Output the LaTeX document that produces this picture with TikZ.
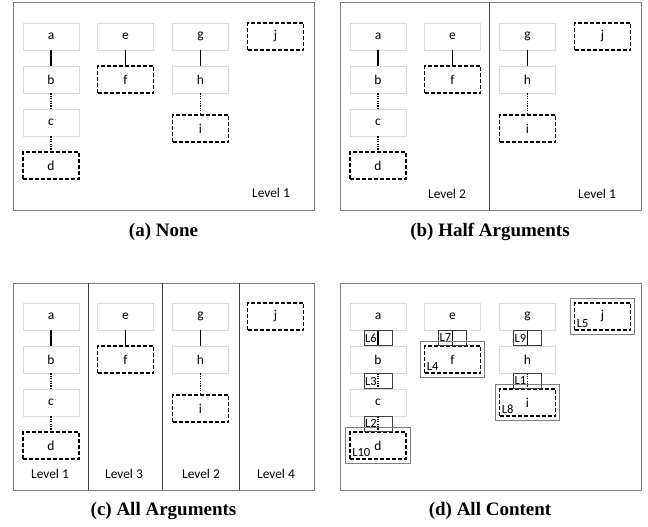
\documentclass[tikz,border=0pt]{standalone}
\usepackage{fontspec}
\newfontfamily\carlito{Carlito}
\newfontfamily\capfont{Liberation Serif}
\usetikzlibrary{calc,fit}
\definecolor{framegray}{HTML}{808080}
\definecolor{boxgray}{HTML}{D9D9D9}
\definecolor{edgegray}{HTML}{404040}
\tikzset{
  box/.style={draw=boxgray, line width=0.8pt, minimum width=56pt, minimum height=27pt, inner sep=0pt, font=\carlito\fontsize{13.5}{13.5}\selectfont},
  dbox/.style={box, draw=black, line width=1.8pt, dash pattern=on 4pt off 2pt},
  solidc/.style={draw=black, line width=1.8pt},
  dotc/.style={draw=black, line width=1.5pt, dash pattern=on 1.2pt off 1.2pt},
  frame/.style={draw=framegray, line width=1pt},
  divider/.style={draw=edgegray, line width=0.8pt},
  lvl/.style={font=\carlito\fontsize{13.4}{13.4}\selectfont},
  captext/.style={font=\capfont\bfseries\fontsize{19}{19}\selectfont},
  ebox/.style={draw=edgegray, line width=0.8pt},
  obox/.style={draw=framegray, line width=1pt, inner sep=3.5pt},
  lab/.style={font=\carlito\fontsize{12.5}{12.5}\selectfont, inner sep=0.5pt},
}
% #1 prefix, #2 left, #3 top, #4 i-centre offset
\newcommand\mypanel[4]{%
  \draw[frame] (#2,#3) rectangle (#2+301,#3+207);
  \node[box]  (#1a) at (#2+38,#3+33.5) {a};
  \node[box]  (#1b) at (#2+38,#3+76.5) {b};
  \node[box]  (#1c) at (#2+38,#3+119.5) {c};
  \node[dbox] (#1d) at (#2+38,#3+162.5) {d};
  \node[box]  (#1e) at (#2+112.5,#3+33.5) {e};
  \node[dbox] (#1f) at (#2+112.5,#3+76.5) {f};
  \node[box]  (#1g) at (#2+187.5,#3+33.5) {g};
  \node[box]  (#1h) at (#2+187.5,#3+76.5) {h};
  \node[dbox] (#1i) at (#2+187.5,#3+#4) {i};
  \node[dbox] (#1j) at (#2+262.5,#3+33.5) {j};
  \draw[solidc] (#1a) -- (#1b);
  \draw[dotc] (#1b) -- (#1c);
  \draw[dotc] (#1c) -- (#1d);
  \draw[solidc] (#1e) -- (#1f);
  \draw[solidc] (#1g) -- (#1h);
  \draw[dotc] (#1h) -- (#1i);
}
\begin{document}
\begin{tikzpicture}[x=1pt,y=-1pt]
\useasboundingbox (0,0) rectangle (648,527);
% (a)
\mypanel{pa}{13}{3}{125.5}
\node[lvl] (pal1) at (271,193) {Level 1};
\node[captext] (capa) at (163.5,232) {(a) None};
% (b)
\mypanel{pb}{340}{3}{125.5}
\draw[divider] (489,3) -- (489,210);
\node[lvl] (pbl2) at (447,194) {Level 2};
\node[lvl] (pbl1) at (597,194) {Level 1};
\node[captext] (capb) at (490,232) {(b) Half Arguments};
% (c)
\mypanel{pc}{13}{283}{125.5}
\draw[divider] (88,283) -- (88,490);
\draw[divider] (162,283) -- (162,490);
\draw[divider] (239,283) -- (239,490);
\node[lvl] (pcl1) at (50,474) {Level 1};
\node[lvl] (pcl3) at (124,474) {Level 3};
\node[lvl] (pcl2) at (201,474) {Level 2};
\node[lvl] (pcl4) at (276,474) {Level 4};
\node[captext] (capc) at (163.5,511) {(c) All Arguments};
% (d)
\mypanel{pd}{340}{283}{119.5}
\node[captext] (capd) at (490,511) {(d) All Content};
% edge boxes
\foreach \p/\c/\l in {pda/pdb/L6, pdb/pdc/L3, pdc/pdd/L2, pde/pdf/L7, pdg/pdh/L9, pdh/pdi/L1}{
  \draw[ebox] ($(\p.south)+(-14,0)$) rectangle ($(\c.north)+(14,0)$);
  \node[lab, anchor=west] (e\l) at ($(\p.south)!0.5!(\c.north)+(-13.5,0)$) {\l};
}
% outer boxes and labels
\foreach \n/\l in {pdd/L10, pdf/L4, pdi/L8, pdj/L5}{
  \node[obox, fit=(\n)] (o\n) {};
  \node[lab, anchor=south west] (n\l) at ($(\n.south west)+(2.5,-2.5)$) {\l};
}
\end{tikzpicture}
\end{document}
